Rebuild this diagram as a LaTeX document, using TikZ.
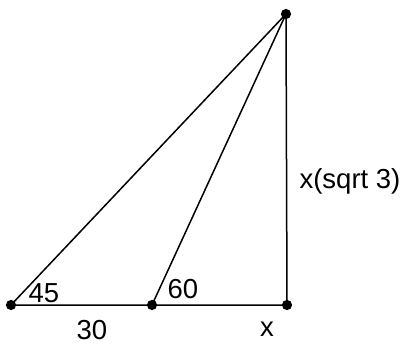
\documentclass[tikz,border=0pt]{standalone}
\usepackage{fontspec}
\setmainfont{Liberation Sans}
\usepackage{tikz}

\begin{document}
\begin{tikzpicture}[x=1pt, y=-1pt, line width=1.5pt,
  lbl/.style={font=\fontsize{27.5}{30}\selectfont, inner sep=0pt}]
\useasboundingbox (0,0) rectangle (402,345);

% Vertices
\coordinate (A) at (11,305);
\coordinate (B) at (152,305);
\coordinate (C) at (287,305);
\coordinate (T) at (286,14);

% Sides
\draw (A) -- (C) -- (T) -- cycle;
\draw (B) -- (T);

% Points
\foreach \p in {A,B,C,T} \filldraw (\p) circle (4.3);

% Angles and lengths
\node[lbl] (a45) at (44,293) {45};
\node[lbl] (a60) at (183,289) {60};
\node[lbl] (l30) at (92,330) {30};
\node[lbl] (lx) at (267,329) {x};
\node[lbl] (lh) at (350,181) {x(sqrt 3)};

\end{tikzpicture}
\end{document}
